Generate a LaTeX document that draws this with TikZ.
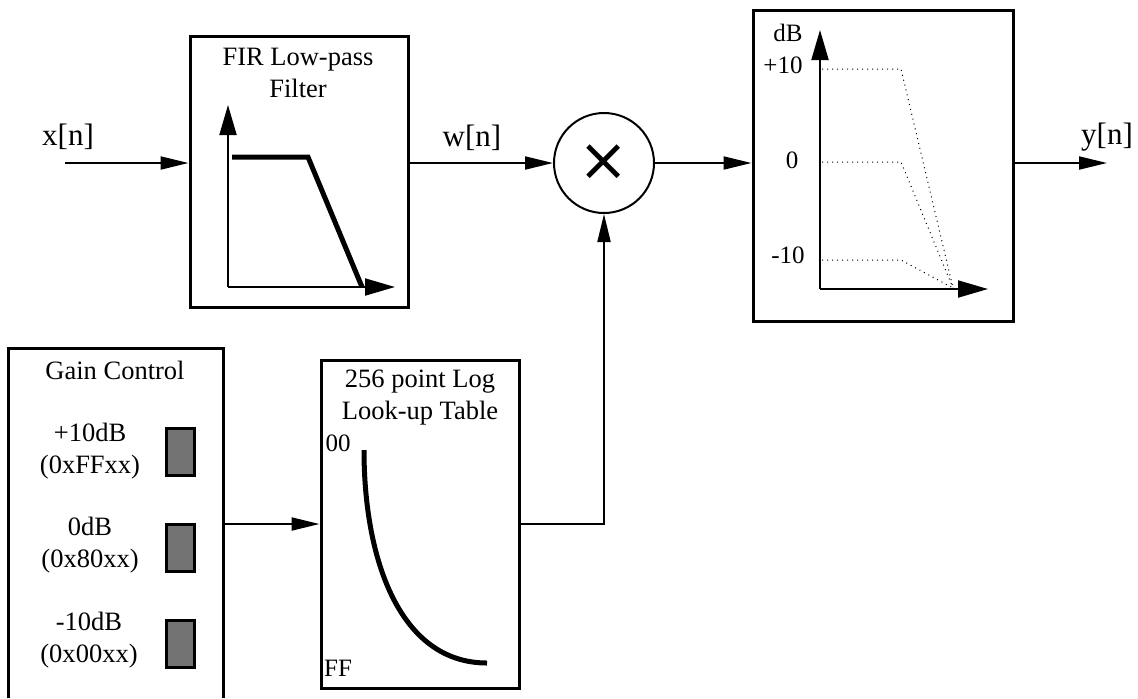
\documentclass[tikz,border=0pt]{standalone}
\usepackage{fontspec}
\setmainfont{Liberation Serif}
\newfontfamily\symfont{DejaVu Sans}
\usetikzlibrary{arrows.meta,positioning,calc}
\definecolor{swgray}{HTML}{737373}

\begin{document}
\begin{tikzpicture}[x=0.5pt,y=-0.5pt,
    blk/.style={draw,line width=1.5pt,inner sep=0pt},
    txt/.style={align=center,font=\fontsize{13.25}{16}\selectfont,inner sep=0pt},
    lbl/.style={font=\fontsize{15.5}{18}\selectfont,inner sep=0pt},
    sm/.style={font=\fontsize{12.5}{15}\selectfont,inner sep=0pt},
    sig/.style={-{Triangle[length=14pt,width=6.5pt]},line width=1pt},
    ax/.style={-{Triangle[length=15pt,width=8.5pt]},line width=1pt},
    crv/.style={line width=2.5pt},
    lvl/.style={dotted,line width=0.5pt},
    sw/.style={draw,line width=1.5pt,fill=swgray,minimum width=14pt,
      minimum height=23.5pt,inner sep=0pt}]
  \useasboundingbox (0,0) rectangle (1138,698);
  % blocks
  \node[blk,minimum width=109pt,minimum height=135.5pt] (fir) at (299,171.5) {};
  \node[draw,circle,line width=1pt,minimum size=50pt,inner sep=0pt] (mul) at (604,163)
    {\symfont\fontsize{30}{30}\selectfont ×};
  \node[blk,minimum width=130pt,minimum height=155.5pt] (db) at (883,165.5) {};
  \node[minimum width=107pt,minimum height=174.5pt,inner sep=0pt] (gain) at (116,523.5) {};
  \draw[line width=1.5pt] (gain.south west) |- (gain.north east) -- (gain.south east);
  \node[blk,minimum width=99pt,minimum height=164pt] (lut) at (420,524) {};
  % titles and switches
  \node[txt] (firt) at (298,73) {FIR Low-pass\\Filter};
  \node[txt] (lutt) at (420,397.5) {256 point Log\\Look-up Table};
  \node[txt] (gaint) at (115,370) {Gain Control};
  \node[txt] (g1) at (90,451) {+10dB\\(0xFFxx)};
  \node[txt] (g2) at (90,545) {0dB\\(0x80xx)};
  \node[txt] (g3) at (89,640) {-10dB\\(0x00xx)};
  \node[sw] (s1) at (180,451.5) {};
  \node[sw] (s2) at (180,547.5) {};
  \node[sw] (s3) at (180,644) {};
  % signals
  \node[lbl] (xl) at (68,137) {x[n]};
  \node[lbl] (wl) at (472,138) {w[n]};
  \node[lbl] (yl) at (1107,137) {y[n]};
  \coordinate (xin) at (65,163);
  \coordinate (yout) at (1107,163);
  \draw[sig] (xin) -- (xin -| fir.west);
  \draw[sig] (fir.east |- mul) -- (mul.west);
  \draw[sig] (mul.east) -- (mul -| db.west);
  \draw[sig] (db.east |- yout) -- (yout);
  \draw[sig] (gain.east |- lut.west) -- (lut.west);
  \draw[sig] (lut.east) -| (mul.south);
  % filter response
  \draw[ax] (228,287) -- (228,105);
  \draw[ax] (228,287) -- (395,287);
  \draw[crv] (232,157) -- (308,157) -- (362,287);
  % gain levels
  \draw[ax] (820,289) -- (820,30);
  \draw[ax] (820,289) -- (988,289);
  \foreach \y in {69,162,260}
    \draw[lvl] (822,\y) -- (901,\y) -- (953,288);
  \node[sm] (dbl) at (788,33) {dB};
  \node[sm] (p10) at (783,65) {+10};
  \node[sm] (z0) at (792,160) {0};
  \node[sm] (m10) at (788,255) {-10};
  % log table
  \draw[crv] (364,450) .. controls (364,560) and (400,663) .. (487,663);
  \node[sm] (lo) at (338,443) {00};
  \node[sm] (hi) at (338,668) {FF};
\end{tikzpicture}
\end{document}
